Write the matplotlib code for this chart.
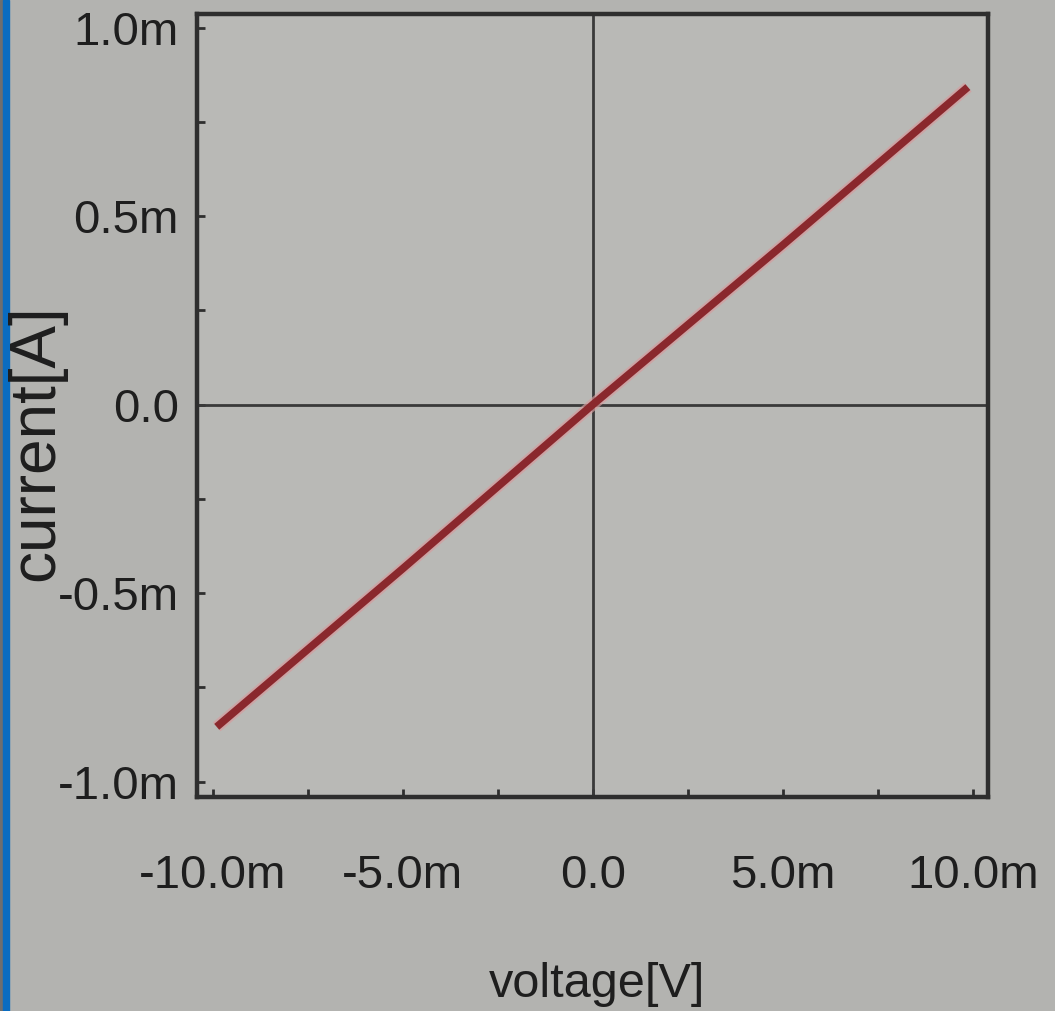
import numpy as np
import matplotlib
matplotlib.use("Agg")
import matplotlib.pyplot as plt
from matplotlib.ticker import FuncFormatter, MultipleLocator
from matplotlib.patches import Rectangle
import matplotlib.patheffects as pe

# data (volts, amps)
voltage = np.array([-9.9e-3, -5.0e-3, 0.0, 5.0e-3, 9.87e-3])
current = np.array([-0.855e-3, -0.435e-3, 0.0, 0.423e-3, 0.842e-3])

x_ticks = [-10e-3, -5e-3, 0.0, 5e-3, 10e-3]
y_ticks = [-1e-3, -0.5e-3, 0.0, 0.5e-3, 1e-3]

font = ['Liberation Sans', 'DejaVu Sans']

def milli(v, pos):
    if abs(v) < 1e-12:
        return "0.0"
    return "{:.1f}m".format(v * 1e3)

fig = plt.figure(figsize=(10.55, 10.11), dpi=100)
fig.patch.set_facecolor('#b3b3b0')

# blue strip along left edge of the photo
fig.patches.append(Rectangle((0, 0), 3 / 1055, 1, transform=fig.transFigure,
                             color='#6e6e6e', zorder=0))
fig.patches.append(Rectangle((3 / 1055, 0), 6 / 1055, 1, transform=fig.transFigure,
                             color='#0a6cc0', zorder=0))

ax = fig.add_axes([0.1867, 0.2117, 0.7498, 0.7745])
ax.set_facecolor('#b9b9b6')

ax.plot(voltage, current, color='#8a282d', lw=5.5, solid_capstyle='butt', zorder=3,
        path_effects=[pe.Stroke(linewidth=8.5, foreground='#d59c9e', alpha=0.7), pe.Normal()])

# zero lines
ax.axhline(0, color='#3a3a3a', lw=2, zorder=2)
ax.axvline(0, color='#3a3a3a', lw=2, zorder=2)

ax.set_xlim(-10.42e-3, 10.40e-3)
ax.set_ylim(-1.041e-3, 1.036e-3)

ax.set_xticks(x_ticks)
ax.set_yticks(y_ticks)
ax.xaxis.set_minor_locator(MultipleLocator(2.5e-3))
ax.yaxis.set_minor_locator(MultipleLocator(0.25e-3))
ax.xaxis.set_major_formatter(FuncFormatter(milli))
ax.yaxis.set_major_formatter(FuncFormatter(milli))

ax.tick_params(which='both', direction='in', length=6, width=2, color='#2e2e2e',
               top=False, right=False)
ax.tick_params(axis='x', which='major', pad=41)
ax.tick_params(axis='y', which='major', pad=13)

for lab in ax.get_xticklabels() + ax.get_yticklabels():
    lab.set_family(font)
    lab.set_fontsize(34)
    lab.set_color('#1e1e1e')

for s in ax.spines.values():
    s.set_linewidth(3.2)
    s.set_color('#2e2e2e')

fig.text(36 / 1055, 1 - 443 / 1011, "current[A]", rotation=90, ha='center', va='center',
         fontsize=46, family=font, color='#1e1e1e')
fig.text(597 / 1055, 1 - 997 / 1011, "voltage[V]", ha='center', va='baseline',
         fontsize=35, family=font, color='#1e1e1e')

fig.savefig("out.png", dpi=100, facecolor=fig.get_facecolor())
